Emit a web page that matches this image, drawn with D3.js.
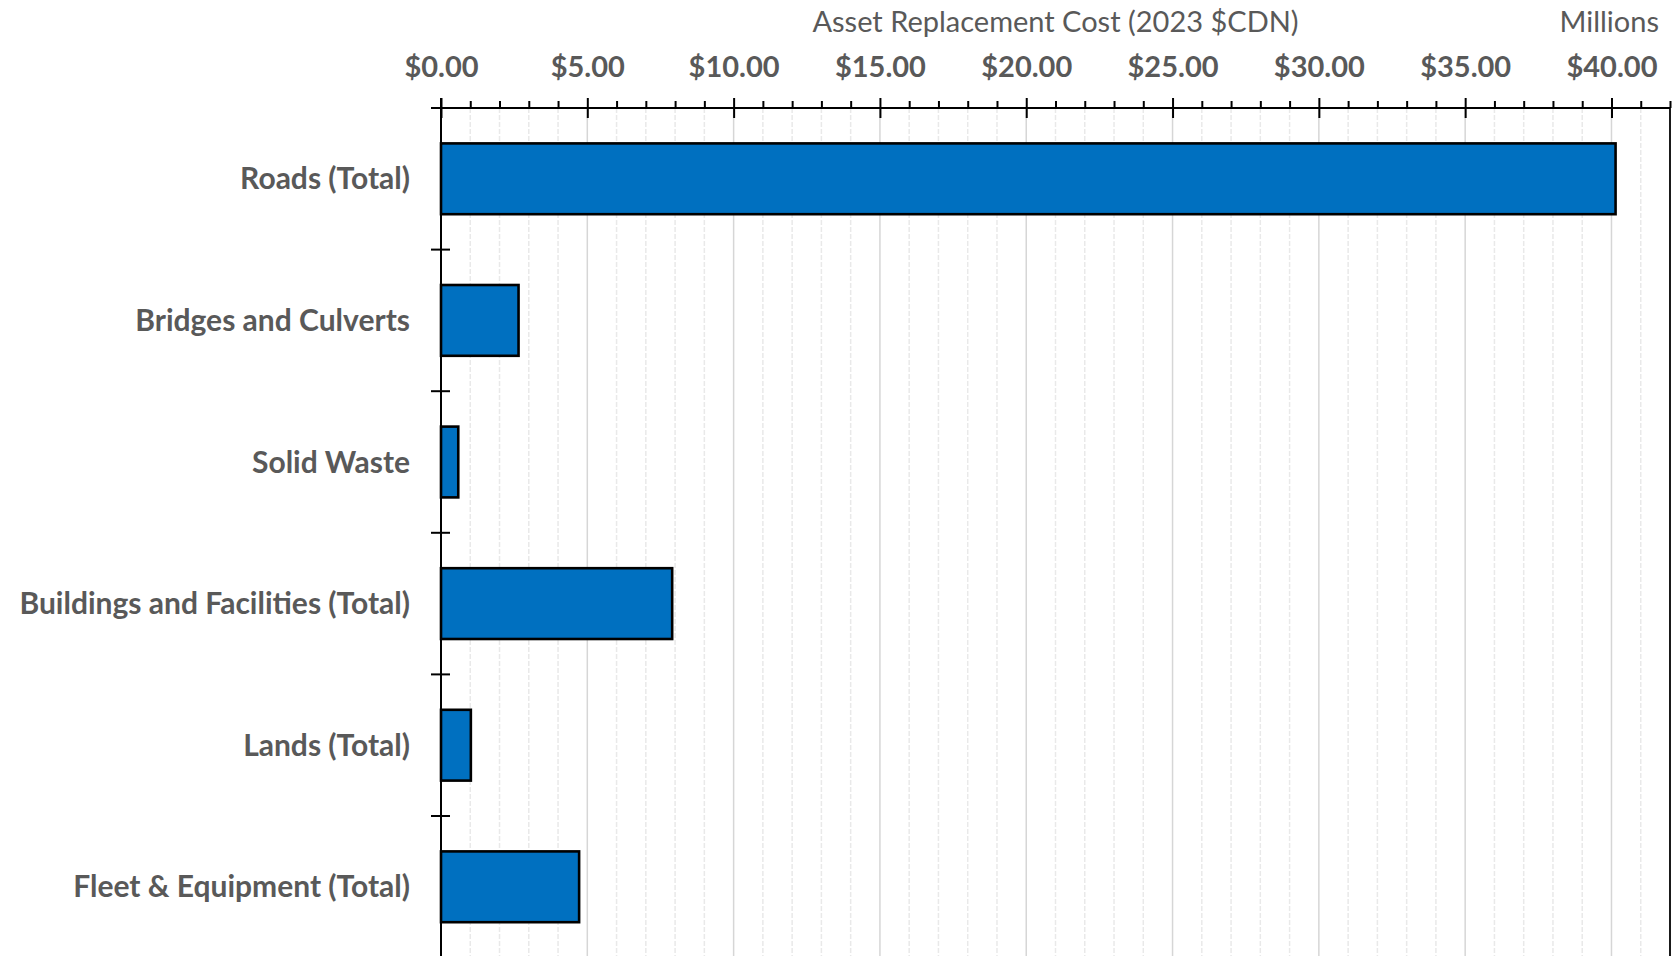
<!DOCTYPE html>
<html>
<head>
<meta charset="utf-8">
<script src="https://cdn.jsdelivr.net/npm/d3@7"></script>
<style>
  html, body { margin: 0; padding: 0; background: #ffffff; }
  svg { display: block; }
  text { font-family: Lato, "Open Sans", sans-serif; fill: #595959; }
</style>
</head>
<body>
<svg id="chart" width="1672" height="956"></svg>
<script>
// Asset categories, top to bottom
const categories = [
  "Roads (Total)",
  "Bridges and Culverts",
  "Solid Waste",
  "Buildings and Facilities (Total)",
  "Lands (Total)",
  "Fleet & Equipment (Total)"
];
// Replacement cost in millions of 2023 CDN dollars
const values = [40.14, 2.65, 0.59, 7.90, 1.02, 4.72];
// Value axis: major ticks every $5M, minor every $1M, axis maximum $42M
const majorTicks = [0, 5, 10, 15, 20, 25, 30, 35, 40];
const minorTicks = d3.range(1, 43).filter(v => v % 5 !== 0);
const axisMax = 42;
const axisTitle = "Asset Replacement Cost (2023 $CDN)";
const unitsLabel = "Millions";

const svg = d3.select("#chart");
const plot = { left: 441, right: 1670, top: 108, bottom: 957.6 };

const x = d3.scaleLinear().domain([0, axisMax]).range([plot.left, plot.right]);
const y = d3.scaleBand().domain(categories)
  .range([plot.top, plot.bottom])
  .paddingInner(0.5).paddingOuter(0.25);

// Gridlines
svg.append("g").selectAll("line").data(minorTicks).join("line")
  .attr("x1", d => x(d)).attr("x2", d => x(d))
  .attr("y1", plot.top).attr("y2", plot.bottom)
  .attr("stroke", "#e9e9e9").attr("stroke-width", 1.5)
  .attr("stroke-dasharray", "5,2");
svg.append("g").selectAll("line").data(majorTicks.filter(v => v > 0)).join("line")
  .attr("x1", d => x(d)).attr("x2", d => x(d))
  .attr("y1", plot.top).attr("y2", plot.bottom)
  .attr("stroke", "#d6d6d6").attr("stroke-width", 1.5);

// Bars
svg.append("g").selectAll("rect").data(categories).join("rect")
  .attr("x", x(0))
  .attr("y", d => y(d))
  .attr("width", (d, i) => x(values[i]) - x(0))
  .attr("height", y.bandwidth())
  .attr("fill", "#0070C0")
  .attr("stroke", "#000000")
  .attr("stroke-width", 2.6);

// Right edge line of the plot
svg.append("line")
  .attr("x1", plot.right).attr("x2", plot.right)
  .attr("y1", plot.top).attr("y2", plot.bottom)
  .attr("stroke", "#1a1a1a").attr("stroke-width", 2);

// Top value axis: labels + outward major ticks
const topAxis = svg.append("g")
  .attr("transform", `translate(0,${plot.top})`)
  .call(d3.axisTop(x).tickValues(majorTicks).tickFormat(d3.format("$.2f"))
    .tickSizeInner(10).tickSizeOuter(0).tickPadding(21));
topAxis.select(".domain").attr("stroke", "#000").attr("stroke-width", 2)
  .attr("d", `M${plot.left - 10},0H${plot.right}`);
topAxis.selectAll(".tick line").attr("stroke", "#000").attr("stroke-width", 2);
topAxis.selectAll(".tick text")
  .style("font-family", "Lato, sans-serif").style("font-weight", 700)
  .style("font-size", "29px").attr("fill", "#595959");

// Inward half of the major ticks
const crossTicks = svg.append("g")
  .attr("transform", `translate(0,${plot.top})`)
  .call(d3.axisBottom(x).tickValues(majorTicks).tickFormat("").tickSize(10).tickSizeOuter(0));
crossTicks.select(".domain").remove();
crossTicks.selectAll(".tick line").attr("stroke", "#000").attr("stroke-width", 2);

// Minor ticks, outward only
const minorAxis = svg.append("g")
  .attr("transform", `translate(0,${plot.top})`)
  .call(d3.axisTop(x).tickValues(minorTicks).tickFormat("").tickSize(7).tickSizeOuter(0));
minorAxis.select(".domain").remove();
minorAxis.selectAll(".tick line").attr("stroke", "#000").attr("stroke-width", 2);

// Category axis: line, boundary cross ticks, labels
const boundaries = d3.range(categories.length + 1).map(k => plot.top + k * y.step());
const catAxis = svg.append("g");
catAxis.append("line")
  .attr("x1", plot.left).attr("x2", plot.left)
  .attr("y1", plot.top - 10).attr("y2", plot.bottom)
  .attr("stroke", "#000").attr("stroke-width", 2);
catAxis.selectAll("line.cat-tick").data(boundaries).join("line")
  .attr("class", "cat-tick")
  .attr("x1", plot.left - 10).attr("x2", plot.left + 9)
  .attr("y1", d => d).attr("y2", d => d)
  .attr("stroke", "#000").attr("stroke-width", 2);
catAxis.selectAll("text").data(categories).join("text")
  .attr("x", plot.left - 31)
  .attr("y", d => y(d) + y.bandwidth() / 2 + 10.5)
  .attr("text-anchor", "end")
  .style("font-weight", 700).style("font-size", "30px")
  .text(d => d);

// Axis title and units
svg.append("text")
  .attr("x", (plot.left + plot.right) / 2).attr("y", 32)
  .attr("text-anchor", "middle")
  .style("font-size", "29px").style("font-weight", 400)
  .text(axisTitle);
svg.append("text")
  .attr("x", 1659).attr("y", 32)
  .attr("text-anchor", "end")
  .style("font-size", "29px").style("font-weight", 400)
  .text(unitsLabel);
</script>
</body>
</html>
